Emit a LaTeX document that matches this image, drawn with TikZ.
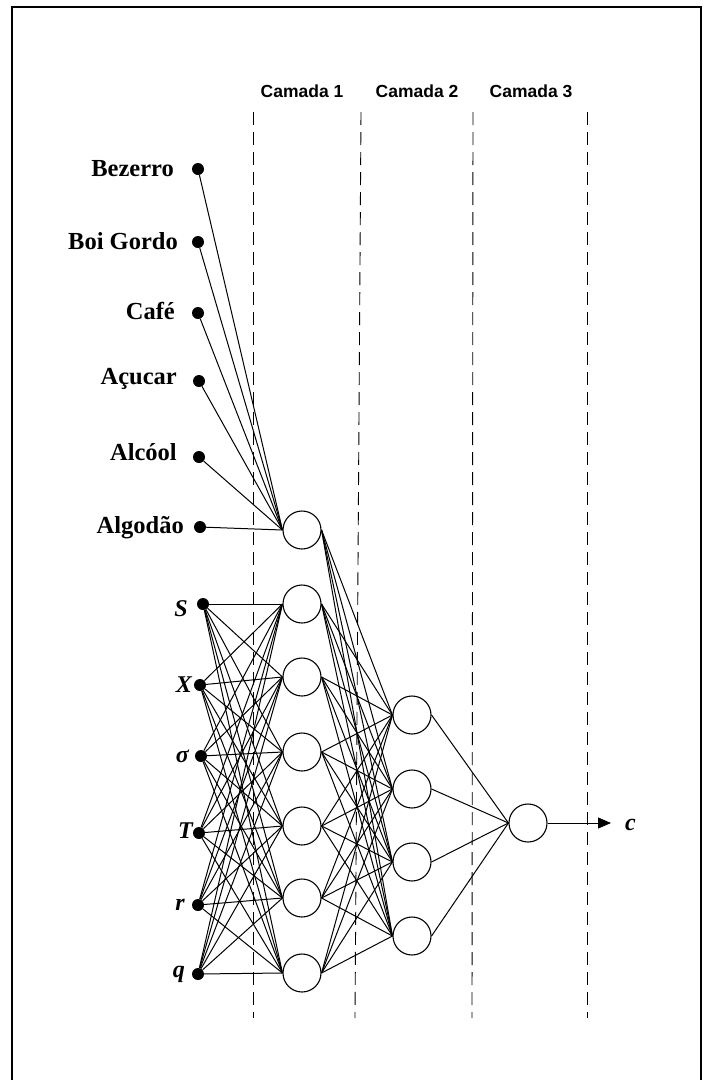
\documentclass[tikz,border=0pt]{standalone}
\usepackage{fontspec}
\setmainfont{Liberation Serif}
\newfontfamily\camfont{Liberation Sans}
\usetikzlibrary{arrows.meta}

\begin{document}
\begin{tikzpicture}[
    x=1pt,y=-1pt,
    unit/.style={circle,draw,fill=white,line width=1.1pt,minimum size=38pt,inner sep=0pt},
    dot/.style={circle,fill,inner sep=0pt,minimum size=12pt},
    inlab/.style={anchor=base east,inner sep=0pt,font=\fontsize{24.5}{26}\selectfont\bfseries},
    varlab/.style={anchor=base east,inner sep=0pt,font=\fontsize{24}{26}\selectfont\bfseries\itshape},
    camlab/.style={inner sep=0pt,font=\camfont\fontsize{17.5}{20}\selectfont\bfseries},
    link/.style={line width=1pt},
    sep/.style={line width=0.9pt,dash pattern=on 13pt off 7pt}
]
\useasboundingbox (0,0) rectangle (704,1080);
\draw[line width=2pt] (12,1090) -- (12,7) -- (701,7) -- (701,1090);

    % camadas
    \node[camlab] (cam1) at (302,91) {Camada 1};
    \node[camlab] (cam2) at (417,91) {Camada 2};
    \node[camlab] (cam3) at (531,91) {Camada 3};
    \draw[sep] (253,112) -- (253,1018);
    \draw[sep] (361,112) -- (355,1018);
    \draw[sep] (473,112) -- (472,1018);
    \draw[sep] (587,112) -- (587,1018);

    % entradas (commodities)
    \node[dot] (a1) at (198,169) {};
    \node[dot] (a2) at (198,242) {};
    \node[dot] (a3) at (198,313) {};
    \node[dot] (a4) at (199,381) {};
    \node[dot] (a5) at (199,457) {};
    \node[dot] (a6) at (200,527) {};
    \node[inlab] (la1) at (174,176) {Bezerro};
    \node[inlab] (la2) at (178,249) {Boi Gordo};
    \node[inlab] (la3) at (175,319) {Café};
    \node[inlab] (la4) at (177,384) {Açucar};
    \node[inlab] (la5) at (177,460) {Alcóol};
    \node[inlab] (la6) at (184,533) {Algodão};

    % entradas (variaveis)
    \node[dot] (v1) at (203,604) {};
    \node[dot] (v2) at (200,685) {};
    \node[dot] (v3) at (201,756) {};
    \node[dot] (v4) at (199,833) {};
    \node[dot] (v5) at (198,905) {};
    \node[dot] (v6) at (198,974) {};
    \node[varlab] (lv1) at (188,616) {S};
    \node[varlab] (lv2) at (192,692) {X};
    \node[varlab] (lv3) at (189,762) {σ};
    \node[varlab] (lv4) at (193,838) {T};
    \node[varlab] (lv5) at (185,910) {r};
    \node[varlab] (lv6) at (185,977) {q};

    % camada 1
    \node[unit] (h1) at (302,530) {};
    \node[unit] (h2) at (302,604) {};
    \node[unit] (h3) at (302,677) {};
    \node[unit] (h4) at (302,752) {};
    \node[unit] (h5) at (302,826) {};
    \node[unit] (h6) at (302,898) {};
    \node[unit] (h7) at (302,973) {};

    % camada 2
    \node[unit] (k1) at (412,715) {};
    \node[unit] (k2) at (412,789) {};
    \node[unit] (k3) at (412,862) {};
    \node[unit] (k4) at (412,936) {};

    % camada 3
    \node[unit] (o) at (528,823) {};
    \coordinate (oend) at (611,823);
    \node[anchor=base west,inner sep=0pt,font=\fontsize{24}{26}\selectfont\bfseries\itshape] (lc) at (625,830) {c};

    % ligacoes
    \foreach \i in {1,...,6}
        \draw[link] (a\i) -- (h1.west);
    \foreach \i in {1,...,6}
        \foreach \j in {2,...,7}
            \draw[link] (v\i) -- (h\j.west);
    \foreach \i in {1,...,7}
        \foreach \j in {1,...,4}
            \draw[link] (h\i.east) -- (k\j.west);
    \foreach \j in {1,...,4}
        \draw[link] (k\j.east) -- (o.west);
    \draw[link,-{Triangle[length=13pt,width=11pt]}] (o) -- (oend);
\end{tikzpicture}
\end{document}
